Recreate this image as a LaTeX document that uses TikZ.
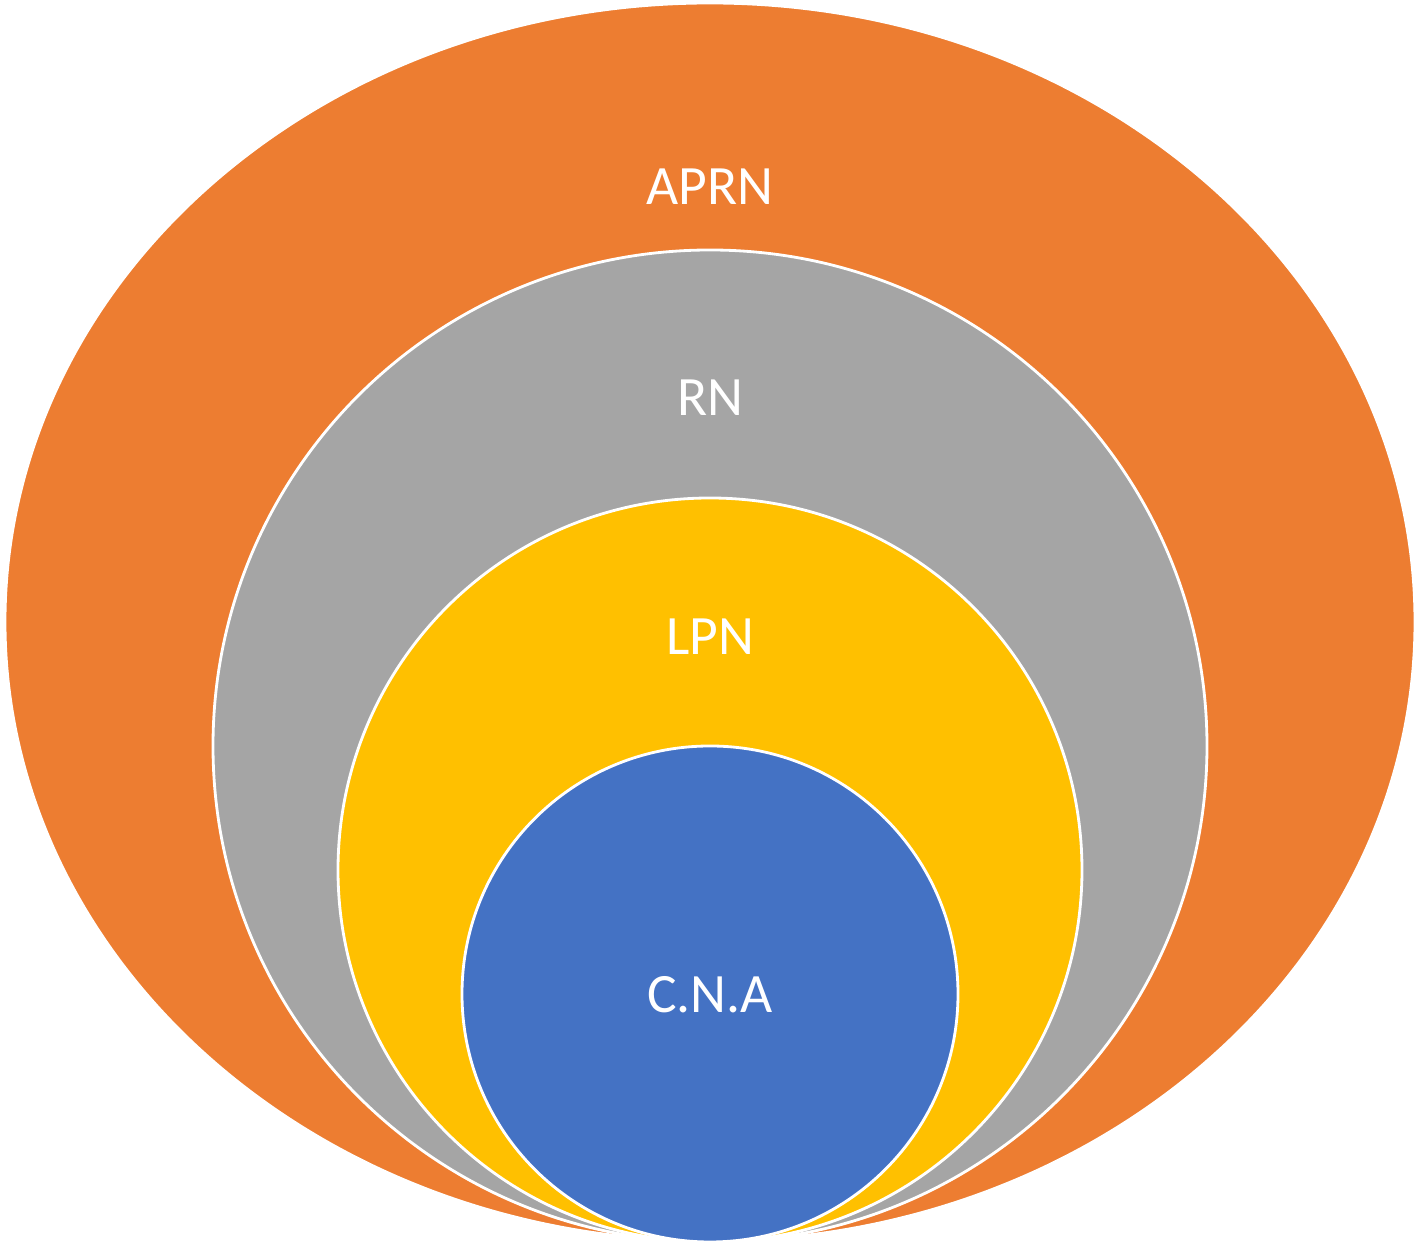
\documentclass[tikz,border=0pt]{standalone}
\usepackage{fontspec}
\setmainfont{Carlito}
\usetikzlibrary{positioning}
\definecolor{aprnorange}{HTML}{ED7D31}
\definecolor{rngray}{HTML}{A5A5A5}
\definecolor{lpnyellow}{HTML}{FFC000}
\definecolor{cnablue}{HTML}{4472C4}
\tikzset{
  ring/.style={draw=white, line width=0.8pt},
  label/.style={text=white, font=\fontsize{15.8}{19}\selectfont}
  }

\begin{document}
\begin{tikzpicture}
	\useasboundingbox (0,0) rectangle (14.16,12.44);

	% Circles
	\draw[ring, fill=aprnorange] (7.10,6.22) ellipse (7.05 and 6.19);
	\draw[ring, fill=rngray] (7.10,4.98) ellipse (4.97 and 4.96);
	\draw[ring, fill=lpnyellow] (7.10,3.74) circle (3.72);
	\draw[ring, fill=cnablue] (7.10,2.50) circle (2.48);

	% Labels
	\node[label] (aprn) at (7.10,10.57) {APRN};
	\node[label] (rn) at (7.10,8.46) {RN};
	\node[label] (lpn) at (7.10,6.07) {LPN};
	\node[label] (cna) at (7.10,2.49) {C.N.A};
\end{tikzpicture}
\end{document}
